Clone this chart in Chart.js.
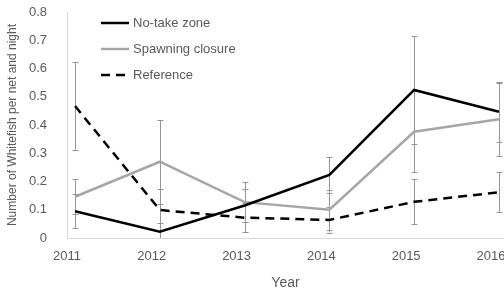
<!DOCTYPE html>
<html>
<head>
<meta charset="utf-8">
<script src="https://cdn.jsdelivr.net/npm/chart.js@4/dist/chart.umd.min.js"></script>
<style>
  html, body { margin: 0; padding: 0; background: #fff; }
  #wrap { width: 504px; height: 294px; }
</style>
</head>
<body>
<div id="wrap"><canvas id="chart" width="504" height="294"></canvas></div>
<script>
const years = [2011, 2012, 2013, 2014, 2015, 2016];

const noTake = [0.095, 0.022, 0.115, 0.223, 0.524, 0.447];
const errNoTake = [0.06, 0.03, 0.057, 0.065, 0.19, 0.106];

const spawning = [0.146, 0.27, 0.127, 0.10, 0.376, 0.42];
const errSpawning = [0.062, 0.148, 0.07, 0.07, 0.144, 0.13];

const reference = [0.467, 0.099, 0.072, 0.064, 0.128, 0.162];
const errReference = [0.155, 0.073, 0.052, 0.045, 0.08, 0.07];

const yTicks = [0, 0.1, 0.2, 0.3, 0.4, 0.5, 0.6, 0.7, 0.8];

const textColor = '#595959';
const fontFamily = '"Liberation Sans", Arial, sans-serif';

function points(values) {
  return values.map((v, i) => ({ x: years[i], y: v }));
}

// error bars go under the lines
const errorBars = {
  id: 'errorBars',
  beforeDatasetsDraw(chart) {
    const ctx = chart.ctx;
    const x = chart.scales.x;
    const y = chart.scales.y;
    const area = chart.chartArea;
    ctx.save();
    ctx.beginPath();
    ctx.rect(area.left, area.top - 5, area.right - area.left, area.bottom - area.top + 5);
    ctx.clip();
    ctx.strokeStyle = '#969696';
    ctx.lineWidth = 1;
    chart.data.datasets.forEach(ds => {
      ds.data.forEach((p, i) => {
        const px = Math.round(x.getPixelForValue(p.x)) + 0.5;
        const top = y.getPixelForValue(p.y + ds.errors[i]);
        const bottom = y.getPixelForValue(Math.max(0, p.y - ds.errors[i]));
        ctx.beginPath();
        ctx.moveTo(px, top);
        ctx.lineTo(px, bottom);
        ctx.moveTo(px - 3, Math.round(top) + 0.5);
        ctx.lineTo(px + 3, Math.round(top) + 0.5);
        if (p.y - ds.errors[i] > 0) {
          ctx.moveTo(px - 3, Math.round(bottom) + 0.5);
          ctx.lineTo(px + 3, Math.round(bottom) + 0.5);
        }
        ctx.stroke();
      });
    });
    ctx.restore();
  }
};

// legend sits inside the plot, top left
const innerLegend = {
  id: 'innerLegend',
  afterDraw(chart) {
    const ctx = chart.ctx;
    ctx.save();
    ctx.font = '13px ' + fontFamily;
    ctx.textBaseline = 'middle';
    chart.data.datasets.forEach((ds, i) => {
      const yy = 23 + i * 26;
      ctx.strokeStyle = ds.borderColor;
      ctx.lineWidth = ds.borderWidth;
      ctx.setLineDash(ds.borderDash || []);
      ctx.beginPath();
      ctx.moveTo(101, yy);
      ctx.lineTo(129, yy);
      ctx.stroke();
      ctx.setLineDash([]);
      ctx.fillStyle = textColor;
      ctx.fillText(ds.label, 133, yy);
    });
    ctx.restore();
  }
};

new Chart(document.getElementById('chart'), {
  type: 'line',
  data: {
    datasets: [
      {
        label: 'No-take zone',
        data: points(noTake),
        errors: errNoTake,
        borderColor: '#000000',
        borderWidth: 2.5
      },
      {
        label: 'Spawning closure',
        data: points(spawning),
        errors: errSpawning,
        borderColor: '#a6a6a6',
        borderWidth: 2.5
      },
      {
        label: 'Reference',
        data: points(reference),
        errors: errReference,
        borderColor: '#000000',
        borderWidth: 2.5,
        borderDash: [9, 6]
      }
    ]
  },
  options: {
    responsive: false,
    animation: false,
    events: [],
    elements: {
      point: { radius: 0 },
      line: { tension: 0, fill: false, borderCapStyle: 'butt' }
    },
    layout: { padding: { top: 12, left: 0, right: 0, bottom: 0 } },
    plugins: {
      legend: { display: false },
      tooltip: { enabled: false }
    },
    scales: {
      x: {
        type: 'linear',
        min: 2010.905,
        max: 2016.06,
        afterBuildTicks(scale) {
          scale.ticks = years.map(v => ({ value: v }));
        },
        afterFit(scale) {
          scale.height = 56;
          scale.paddingLeft = 0;
          scale.paddingRight = 0;
        },
        grid: { display: false },
        border: { display: true, color: '#d9d9d9', width: 1 },
        ticks: {
          color: textColor,
          font: { size: 13, family: fontFamily },
          padding: 3,
          labelOffset: -8,
          maxRotation: 0,
          callback: v => String(v)
        },
        title: {
          display: true,
          text: 'Year',
          color: textColor,
          font: { size: 14, family: fontFamily },
          padding: { top: 0, bottom: 2 }
        }
      },
      y: {
        min: 0,
        max: 0.8,
        afterBuildTicks(scale) {
          scale.ticks = yTicks.map(v => ({ value: v }));
        },
        afterFit(scale) {
          scale.width = 67;
          scale.paddingTop = 0;
          scale.paddingBottom = 0;
        },
        grid: { display: false },
        border: { display: true, color: '#d9d9d9', width: 1 },
        ticks: {
          color: textColor,
          font: { size: 13, family: fontFamily },
          padding: 12,
          callback: v => v === 0 ? '0' : v.toFixed(1)
        },
        title: {
          display: true,
          text: 'Number of Whitefish per net and night',
          color: textColor,
          font: { size: 12, family: fontFamily },
          padding: { top: 5, bottom: 0 }
        }
      }
    }
  },
  plugins: [errorBars, innerLegend]
});
</script>
</body>
</html>
